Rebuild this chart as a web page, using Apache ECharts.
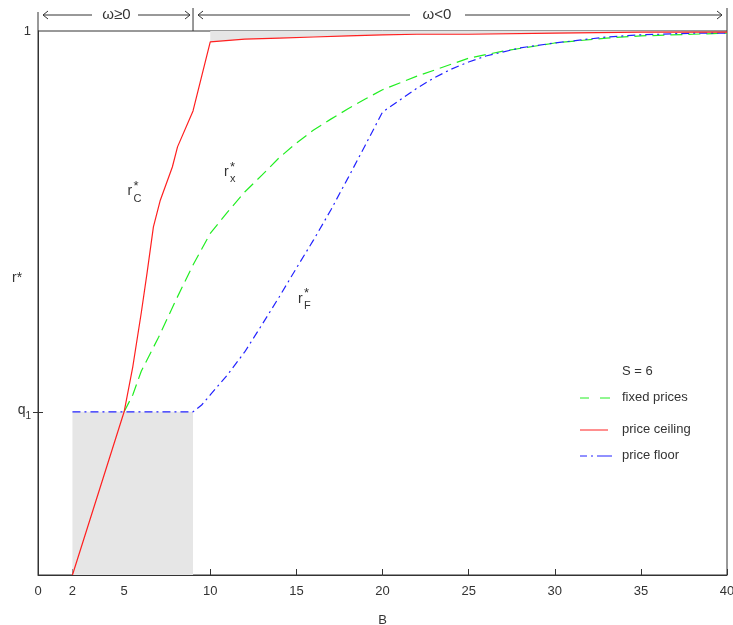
<!DOCTYPE html>
<html><head><meta charset="utf-8">
<script src="https://cdn.jsdelivr.net/npm/echarts@6/dist/echarts.min.js"></script>
<style>html,body{margin:0;padding:0;background:#fff}#c{width:733px;height:625px}</style>
</head><body><div id="c"></div>
<script>
// ---- data ----
const B_ceiling = [2, 5, 5.5, 6, 6.33, 6.7, 7.1, 7.8, 8.1, 9, 10, 12, 14, 16, 18, 20, 22, 25, 30, 35, 40];
const r_ceiling = [0, 0.30, 0.382, 0.483, 0.555, 0.640, 0.689, 0.750, 0.787, 0.853, 0.980, 0.985, 0.987, 0.989, 0.991, 0.993, 0.994, 0.994, 0.996, 0.998, 0.998];

const B_fixed = [5, 5.5, 6, 7, 8, 9, 10, 11, 12, 13, 14, 15, 16, 17, 18, 19, 20, 22, 24, 25, 27, 30, 33, 35, 38, 40];
const r_fixed = [0.300, 0.331, 0.375, 0.437, 0.505, 0.570, 0.628, 0.667, 0.704, 0.735, 0.767, 0.794, 0.818, 0.838, 0.857, 0.875, 0.892, 0.917, 0.939, 0.950, 0.963, 0.978, 0.987, 0.991, 0.994, 0.996];

const B_floor = [2, 9, 9.5, 10, 11, 12, 13, 14, 15, 16, 17, 18, 19, 20, 21, 22, 23, 24, 25, 26, 28, 30, 33, 35, 38, 40];
const r_floor = [0.300, 0.300, 0.3125, 0.331, 0.368, 0.410, 0.460, 0.511, 0.564, 0.616, 0.671, 0.730, 0.790, 0.851, 0.873, 0.895, 0.914, 0.930, 0.943, 0.954, 0.969, 0.978, 0.989, 0.993, 0.996, 0.996];

const xTickValues = [2, 5, 10, 15, 20, 25, 30, 35, 40];
const xLabelValues = [0, 2, 5, 10, 15, 20, 25, 30, 35, 40];
const q1 = 0.3;
const yLabelValues = [q1, 1];
const shadeRange = [2, 9];      // grey box under q1
const topShadeFrom = 10;        // grey sliver above the ceiling curve
const regimeSplit = 9;          // ω≥0 | ω<0 boundary
const seriesNames = ['fixed prices', 'price ceiling', 'price floor'];

// ---- chart ----
const FONT = '"Liberation Sans", Arial, sans-serif';
const TXT = '#333';
const chart = echarts.init(document.getElementById('c'));
const pairs = (xs, ys) => xs.map((x, i) => [x, ys[i]]);
const ceilTop = pairs(B_ceiling, r_ceiling).filter(p => p[0] >= topShadeFrom);

const option = {
  animation: false,
  grid: { left: 38, right: 6, top: 31, bottom: 50, show: true, borderColor: '#333', borderWidth: 1,
          containLabel: false, outerBoundsMode: 'none' },
  xAxis: {
    type: 'value', min: 0, max: 40,
    axisLine: { lineStyle: { color: '#333' } },
    axisTick: { show: true, inside: true, length: 6, customValues: xTickValues, lineStyle: { color: '#333' } },
    axisLabel: { customValues: xLabelValues, color: TXT, fontSize: 13, fontFamily: FONT, margin: 10 },
    splitLine: { show: false },
    name: 'B', nameLocation: 'middle', nameGap: 39,
    nameTextStyle: { color: TXT, fontSize: 13, fontFamily: FONT }
  },
  yAxis: [{
    type: 'value', min: 0, max: 1,
    axisLine: { show: true, lineStyle: { color: '#333' } },
    axisTick: { show: true, inside: false, length: 5, customValues: [q1], lineStyle: { color: '#333' } },
    axisLabel: {
      customValues: yLabelValues, color: TXT, fontSize: 13, fontFamily: FONT, margin: 7,
      formatter: v => v > 0.99 ? '1' : '{q|q}{s|1}',
      rich: { q: { fontSize: 14, fontFamily: FONT, color: TXT, padding: [0, 0, 4, 0] },
              s: { fontSize: 10, fontFamily: FONT, color: TXT, padding: [9, 0, 0, 0] } }
    },
    splitLine: { show: false }
  }, {
    type: 'value', min: 0, max: 1, position: 'left',
    axisLine: { show: false },
    axisTick: { show: true, inside: true, length: 5, customValues: [q1], lineStyle: { color: '#333' } },
    axisLabel: { show: false }, splitLine: { show: false }
  }],
  series: [
    { name: 'shade', type: 'line', data: ceilTop, showSymbol: false, silent: true,
      lineStyle: { opacity: 0 }, areaStyle: { origin: 'end', color: '#e6e6e6', opacity: 1 }, z: 1 },
    { name: seriesNames[0], type: 'line', data: pairs(B_fixed, r_fixed), showSymbol: false, z: 3,
      lineStyle: { color: '#22ee22', width: 1.2, type: [12, 6] } },
    { name: seriesNames[2], type: 'line', data: pairs(B_floor, r_floor), showSymbol: false, z: 3,
      lineStyle: { color: '#2222ff', width: 1.2, type: [8, 4, 2, 4] },
      markArea: { silent: true, itemStyle: { color: '#e6e6e6' },
        data: [[{ xAxis: shadeRange[0], yAxis: 0 }, { xAxis: shadeRange[1], yAxis: q1 }]] } },
    { name: seriesNames[1], type: 'line', data: pairs(B_ceiling, r_ceiling), showSymbol: false, z: 4,
      lineStyle: { color: '#ff2020', width: 1.2 } }
  ]
};
chart.setOption(option);

// ---- annotations positioned from data coordinates ----
const px = (x, y) => chart.convertToPixel({ gridIndex: 0 }, [x, y]);
const g = [];
const ls = { stroke: '#333', lineWidth: 1 };
const line = (x1, y1, x2, y2, style) => g.push({ type: 'line', shape: { x1, y1, x2, y2 }, style: Object.assign({}, ls, style || {}), z: 10 });
const text = (x, y, t, o) => g.push({ type: 'text', x, y, style: Object.assign({ text: t, fill: TXT, font: '13px ' + FONT, align: 'left', verticalAlign: 'middle' }, o || {}), z: 10 });

const [xL, yTop] = px(0, 1);
const [xR] = px(40, 1);
const [xS] = px(regimeSplit, 1);
const yArrow = 15;
// extended frame lines
line(xL, 12, xL, yTop);
line(xR, 8, xR, yTop);
line(xS, 8, xS, yTop);
// arrows
const arrowL = (x1, x2) => { line(x1, yArrow, x2, yArrow); line(x1, yArrow, x1 + 5, yArrow - 4); line(x1, yArrow, x1 + 5, yArrow + 4); };
const arrowR = (x1, x2) => { line(x1, yArrow, x2, yArrow); line(x2, yArrow, x2 - 5, yArrow - 4); line(x2, yArrow, x2 - 5, yArrow + 4); };
arrowL(xL + 5, 92); text((xL + xS) / 2 + 1, yArrow, 'ω≥0', { align: 'center', font: '15px ' + FONT }); arrowR(138, xS - 3);
const midR = 437;
arrowL(xS + 5, midR - 27); text(midR, yArrow, 'ω<0', { align: 'center', font: '15px ' + FONT }); arrowR(midR + 28, xR - 5);

// y-axis name
text(12, 278, 'r*', { font: '14px ' + FONT });

// curve labels r*_C, r*_x, r*_F
const curveLabel = (B, r, sub) => {
  const [x, y] = px(B, r);
  text(x, y, 'r', { font: '14px ' + FONT });
  text(x + 6, y - 5, '*', { font: '13px ' + FONT });
  text(x + 6, y + 7, sub, { font: '11px ' + FONT });
};
curveLabel(5.2, 0.705, 'C');
curveLabel(10.8, 0.740, 'x');
curveLabel(15.1, 0.508, 'F');

// legend
const legX = 580, textX = 622;
text(textX, 371, 'S = 6');
line(legX, 398, legX + 9, 398, { stroke: '#22ee22' }); line(legX + 20, 398, legX + 30, 398, { stroke: '#22ee22' });
text(textX, 397, seriesNames[0]);
line(legX, 430, legX + 28, 430, { stroke: '#ff2020' });
text(textX, 429, seriesNames[1]);
line(legX, 456, legX + 7, 456, { stroke: '#2222ff' }); line(legX + 11, 456, legX + 13, 456, { stroke: '#2222ff' }); line(legX + 17, 456, legX + 32, 456, { stroke: '#2222ff' });
text(textX, 455, seriesNames[2]);

chart.setOption({ graphic: g });
</script></body></html>
